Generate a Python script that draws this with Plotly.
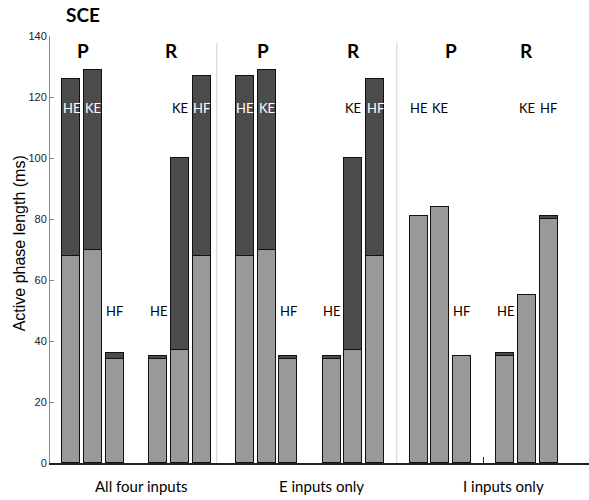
import plotly.graph_objects as go

# ---- data ----
group_names = ["All four inputs", "E inputs only", "I inputs only"]
group_label_x = [3.25, 11.55, 19.9]
bar_slots = [0, 1, 2, 4, 5, 6, 8, 9, 10, 12, 13, 14, 16, 17, 18, 20, 21, 22]
muscles = ["HE", "KE", "HF", "HE", "KE", "HF",
           "HE", "KE", "HF", "HE", "KE", "HF",
           "HE", "KE", "HF", "HE", "KE", "HF"]
light_vals = [68, 70, 34, 34, 37, 68,
              68, 70, 34, 34, 37, 68,
              81, 84, 35, 35, 55, 80]
total_vals = [126, 129, 36, 35, 100, 127,
              127, 129, 35, 35, 100, 126,
              81, 84, 35, 36, 55, 81]
phase_labels = ["P", "R", "P", "R", "P", "R"]
phase_label_x = [0.53, 4.63, 8.84, 13.0, 17.48, 21.0]
separator_x = [6.7, 15.0]
y_ticks = [0, 20, 40, 60, 80, 100, 120, 140]

dark_vals = [t - l for t, l in zip(total_vals, light_vals)]

LIGHT = "#999999"
DARK = "#4b4b4b"
BAR_W = 0.83

fig = go.Figure()
fig.add_trace(go.Bar(x=bar_slots, y=light_vals, width=BAR_W,
                     marker=dict(color=LIGHT, line=dict(color="#111111", width=1)),
                     showlegend=False, hoverinfo="skip"))
fig.add_trace(go.Bar(x=bar_slots, y=dark_vals, width=BAR_W,
                     marker=dict(color=DARK, line=dict(color="#111111", width=1)),
                     showlegend=False, hoverinfo="skip"))

annotations = []
for xs, m, tot in zip(bar_slots, muscles, total_vals):
    ly = 49.8 if tot < 45 else 116.4
    col = "white" if tot > ly + 4 else "#000000"
    annotations.append(dict(x=xs, y=ly, xref="x", yref="y", text=m, showarrow=False,
                            font=dict(family="Lato", size=13, color=col),
                            xanchor="center", yanchor="middle"))
for px, pl in zip(phase_label_x, phase_labels):
    annotations.append(dict(x=px, y=135.4, xref="x", yref="y", text="<b>%s</b>" % pl,
                            showarrow=False, font=dict(family="Lato", size=19, color="#000000"),
                            xanchor="center", yanchor="middle"))
for gx, gn in zip(group_label_x, group_names):
    annotations.append(dict(x=gx, y=-0.054, xref="x", yref="paper", text=gn,
                            showarrow=False, font=dict(family="Lato", size=15, color="#000000"),
                            xanchor="center", yanchor="middle"))
annotations.append(dict(x=0.0612, y=1.0515, xref="paper", yref="paper", text="<b>SCE</b>",
                        showarrow=False, font=dict(family="Lato", size=19, color="#000000"),
                        xanchor="center", yanchor="middle"))
annotations.append(dict(x=-0.056, y=0.514, xref="paper", yref="paper",
                        text="Active phase length (ms)", textangle=-90, showarrow=False,
                        font=dict(family="Liberation Sans", size=16, color="#000000"),
                        xanchor="center", yanchor="middle"))

shapes = []
for sx in separator_x:
    shapes.append(dict(type="line", xref="x", yref="y", x0=sx, x1=sx, y0=0, y1=137.7,
                       line=dict(color="#d0d0d0", width=1), layer="below"))

fig.update_layout(
    width=589, height=500,
    margin=dict(l=50, r=0, t=36, b=37),
    barmode="stack", bargap=0,
    plot_bgcolor="white", paper_bgcolor="white",
    annotations=annotations, shapes=shapes,
    xaxis=dict(range=[-0.99, 23.86], showgrid=False, zeroline=False,
               showline=True, linecolor="#222222", linewidth=1.5,
               tickvals=[19], ticktext=[""], ticks="inside", ticklen=6,
               tickcolor="#222222", tickwidth=1),
    yaxis=dict(range=[0, 140], tickvals=y_ticks, showgrid=False, zeroline=False,
               showline=True, linecolor="#888888", linewidth=1,
               ticks="inside", ticklen=4, tickcolor="#888888",
               tickfont=dict(family="Liberation Sans", size=11, color="#222222")),
)

fig.write_html("out.html", config={"displayModeBar": False},
               post_script="document.body.style.margin='0';document.body.style.padding='0';")
